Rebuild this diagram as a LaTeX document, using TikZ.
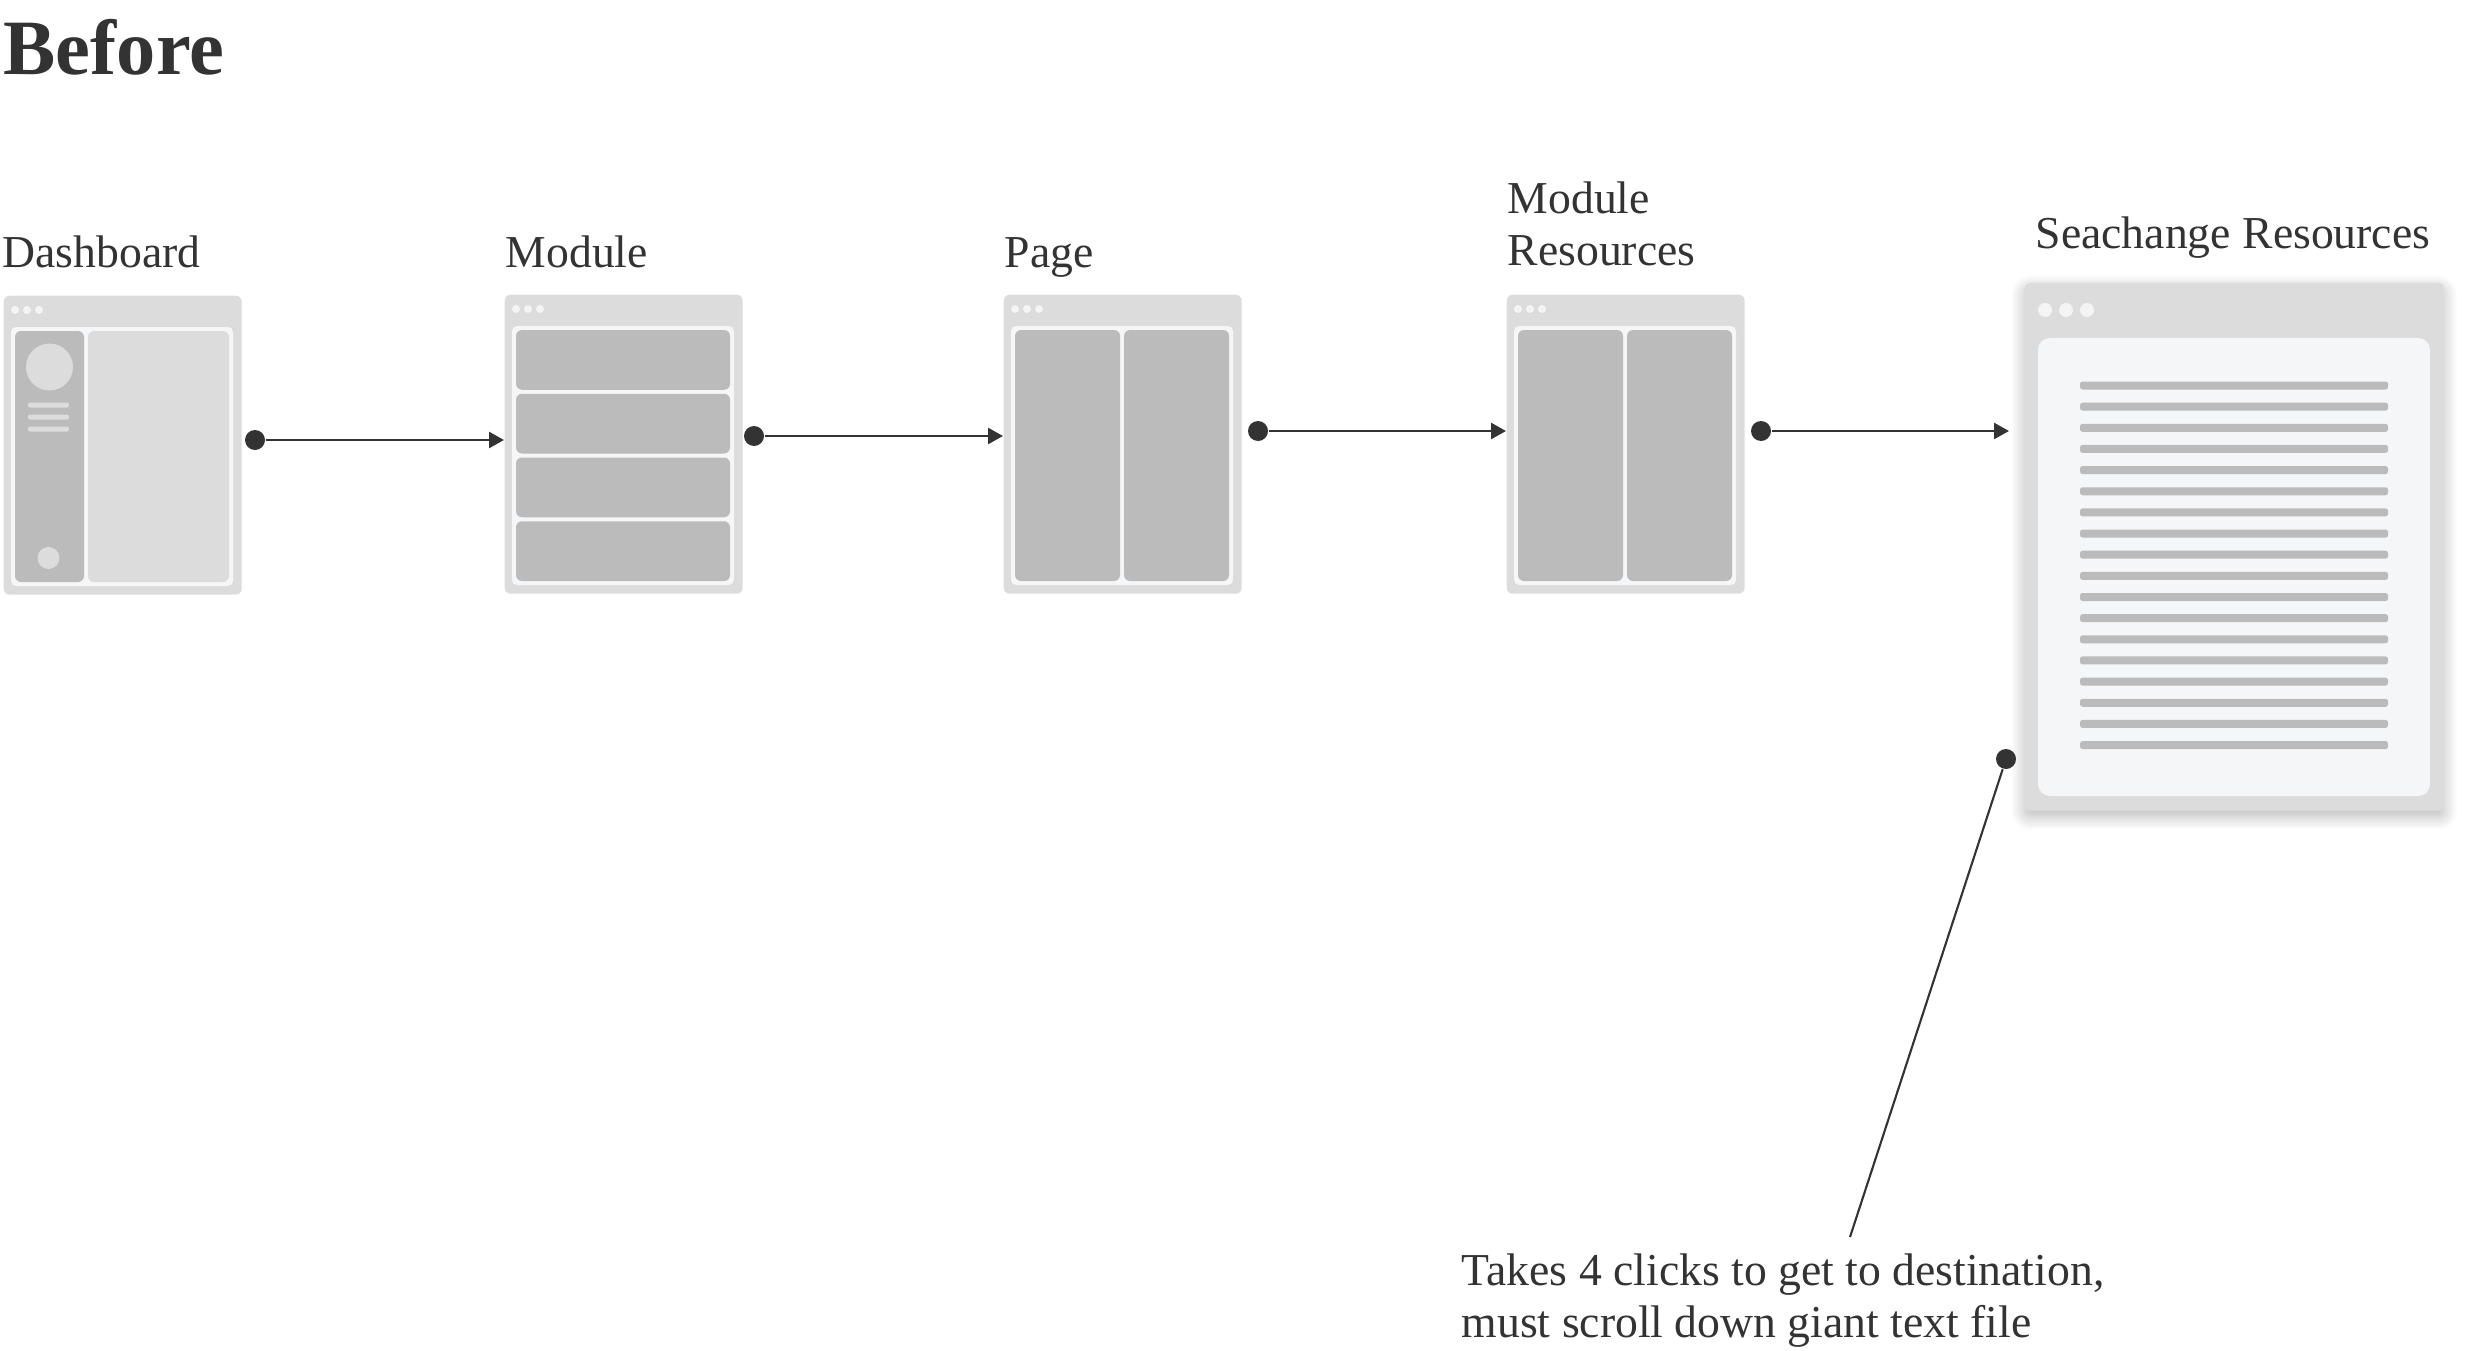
\documentclass[tikz,border=0pt]{standalone}
\usepackage{fontspec}
\setmainfont{Liberation Serif}
\usetikzlibrary{arrows.meta,shadows.blur,positioning}
\definecolor{ink}{HTML}{333333}
\definecolor{framegray}{HTML}{DCDCDC}
\definecolor{panel}{HTML}{F5F6F8}
\definecolor{block}{HTML}{BBBBBB}
\definecolor{knob}{HTML}{F4F4F4}

\begin{document}
\begin{tikzpicture}[x=0.1mm,y=-0.1mm,
    lbl/.style={anchor=base west,inner sep=0pt,text=ink,font=\fontsize{13}{14.8}\selectfont},
    win/.style={fill=framegray,rounded corners=0.6mm,anchor=north west,inner sep=0pt,minimum width=23.8mm,minimum height=29.9mm},
    dot/.style={circle,fill=ink,inner sep=0pt,minimum size=2mm},
    link/.style={draw=ink,line width=0.7pt,-{Triangle[length=1.5mm,width=1.6mm]}}]
      \useasboundingbox (0,0) rectangle (2478,1350);
      \node[anchor=base west,inner sep=0pt,text=ink,font=\fontsize{22.3}{26}\selectfont\bfseries] at (3,75) (before) {Before};
      % labels
      \node[lbl] at (2,268) (ldash) {Dashboard};
      \node[lbl] at (505,268) (lmod) {Module};
      \node[lbl] at (1004,268) (lpage) {Page};
      \node[lbl,align=left] at (1507,266) (lres) {Module\\Resources};
      \node[lbl] at (2035,249) (lsea) {Seachange Resources};
      % windows
      \node[win] at (3,295) (dash) {};
      \node[win] at (504,294) (mod) {};
      \node[win] at (1003,294) (page) {};
      \node[win] at (1506,294) (res) {};
      \node[win,minimum width=41.9mm,minimum height=52.8mm,
        blur shadow={shadow xshift=0mm,shadow yshift=-0.6mm,shadow blur radius=1.4mm,shadow blur steps=14,shadow opacity=28}] at (2024,282) (sea) {};
      % dashboard
      \begin{scope}[shift={(3,295)}]
        \foreach \x in {12,24,36} \fill[knob] (\x,15) circle (4);
        \fill[panel,rounded corners=0.5mm] (8,32) rectangle (230,291);
        \fill[block,rounded corners=0.6mm] (12,36) rectangle (81,287);
        \fill[framegray,rounded corners=0.6mm] (85,36) rectangle (226,287);
        \fill[framegray] (46.5,72) circle (23.5);
        \foreach \y in {110,122,134} \fill[framegray,rounded corners=0.2mm] (25,\y-2.5) rectangle (66,\y+2.5);
        \fill[framegray] (45.5,263) circle (11);
      \end{scope}
      % module
      \begin{scope}[shift={(504,294)}]
        \foreach \x in {12,24,36} \fill[knob] (\x,15) circle (4);
        \fill[panel,rounded corners=0.5mm] (8,32) rectangle (230,291);
        \foreach \y in {36,99.75,163.5,227.25} \fill[block,rounded corners=0.6mm] (12,\y) rectangle (226,\y+59.75);
      \end{scope}
      % page
      \begin{scope}[shift={(1003,294)}]
        \foreach \x in {12,24,36} \fill[knob] (\x,15) circle (4);
        \fill[panel,rounded corners=0.5mm] (8,32) rectangle (230,291);
        \fill[block,rounded corners=0.6mm] (12,36) rectangle (117,287);
        \fill[block,rounded corners=0.6mm] (121,36) rectangle (226,287);
      \end{scope}
      % module resources
      \begin{scope}[shift={(1506,294)}]
        \foreach \x in {12,24,36} \fill[knob] (\x,15) circle (4);
        \fill[panel,rounded corners=0.5mm] (8,32) rectangle (230,291);
        \fill[block,rounded corners=0.6mm] (12,36) rectangle (117,287);
        \fill[block,rounded corners=0.6mm] (121,36) rectangle (226,287);
      \end{scope}
      % seachange resources
      \begin{scope}[shift={(2024,282)}]
        \foreach \x in {21,42,63} \fill[knob] (\x,28) circle (7);
        \fill[panel,rounded corners=1.2mm] (14,56) rectangle (406,514);
        \foreach \i in {0,...,17} \fill[block,rounded corners=0.25mm] (56,99.5+21.15*\i) rectangle (364,107.5+21.15*\i);
      \end{scope}
      % clicks
      \node[dot] at (255,440) (d1) {};
      \node[dot] at (754,436) (d2) {};
      \node[dot] at (1258,431) (d3) {};
      \node[dot] at (1761,431) (d4) {};
      \draw[link] (d1) -- (d1 -| mod.west);
      \draw[link] (d2) -- (d2 -| page.west);
      \draw[link] (d3) -- (d3 -| res.west);
      \draw[link,shorten >=1.5mm] (d4) -- (d4 -| sea.west);
      % note
      \node[dot] at (2006,759) (d5) {};
      \coordinate (ntip) at (1850,1237);
      \node[lbl,align=left] at (1461,1337) (note) {Takes 4 clicks to get to destination,\\must scroll down giant text file};
      \draw[ink,line width=0.6pt] (d5) -- (ntip);
\end{tikzpicture}
\end{document}
